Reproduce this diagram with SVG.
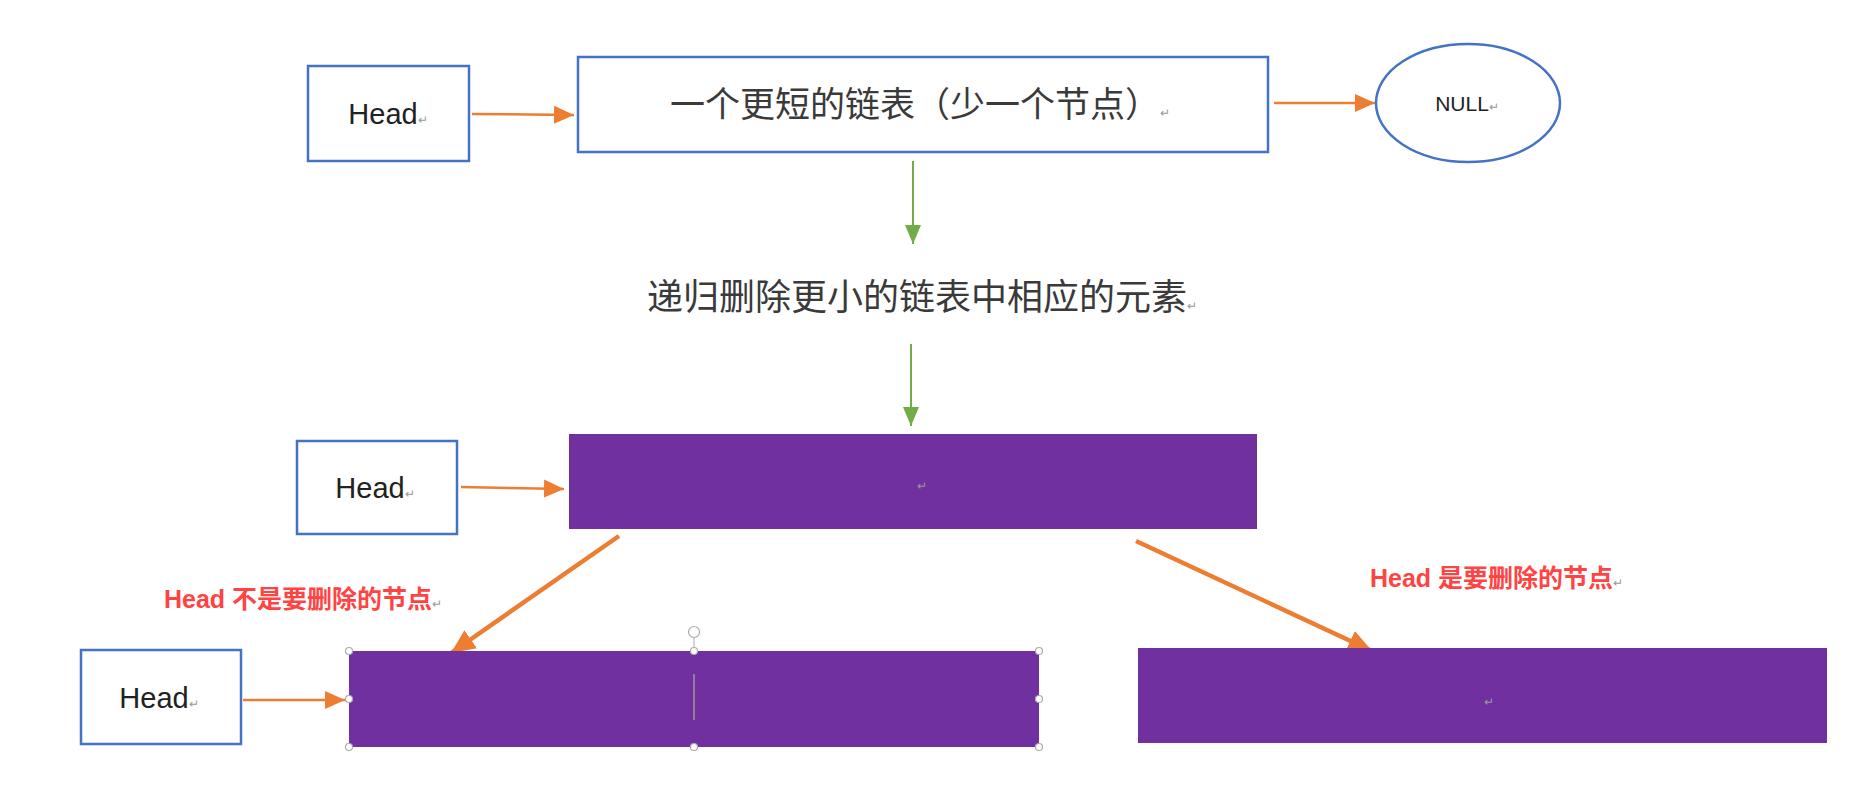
<svg xmlns="http://www.w3.org/2000/svg" width="1860" height="786" viewBox="0 0 1860 786">
<style>
.hbox{fill:#fff;stroke:#4472C4;stroke-width:2.5}
.pbox{fill:#7030A0}
.ht{font-family:"Liberation Sans","Noto Sans",sans-serif;font-size:29px;fill:#222;text-anchor:middle}
.cn{font-family:"Noto Sans CJK SC","Liberation Sans",sans-serif;fill:#3a3a3a}
.red{font-family:"Liberation Sans","Noto Sans CJK SC",sans-serif;font-size:25px;font-weight:bold;fill:#FF4343}
.mk{font-size:12px;fill:#999;font-weight:normal}
.oth{stroke:#ED7D31;stroke-width:2.5;fill:none}
.otk{stroke:#ED7D31;stroke-width:4.5;fill:none}
.gr{stroke:#70AD47;stroke-width:2;fill:none}
.hd{fill:#fff;stroke:#aaa;stroke-width:1.2}
</style>
<defs>
<marker id="ao" markerUnits="userSpaceOnUse" markerWidth="22" markerHeight="20" refX="20" refY="10" orient="auto"><path d="M0,1 L20,10 L0,19 Z" fill="#ED7D31"/></marker>
<marker id="aok" markerUnits="userSpaceOnUse" markerWidth="26" markerHeight="24" refX="24" refY="12" orient="auto"><path d="M0,1 L24,12 L0,23 Z" fill="#ED7D31"/></marker>
<marker id="ag" markerUnits="userSpaceOnUse" markerWidth="20" markerHeight="18" refX="19" refY="9" orient="auto"><path d="M0,1 L19,9 L0,17 Z" fill="#70AD47"/></marker>
</defs>

<g id="connectors">
<line class="oth" x1="472" y1="114" x2="574" y2="115" marker-end="url(#ao)"/>
<line class="oth" x1="1274" y1="103" x2="1375" y2="103" marker-end="url(#ao)"/>
<line class="gr" x1="913" y1="161" x2="913" y2="244" marker-end="url(#ag)"/>
<line class="gr" x1="911" y1="344" x2="911" y2="426" marker-end="url(#ag)"/>
<line class="oth" x1="461" y1="487" x2="564" y2="489" marker-end="url(#ao)"/>
<line class="otk" x1="619" y1="536" x2="451" y2="653" marker-end="url(#aok)"/>
<line class="otk" x1="1136" y1="541" x2="1372" y2="651" marker-end="url(#aok)"/>
<line class="oth" x1="243" y1="700" x2="345" y2="700" marker-end="url(#ao)"/>
</g>

<g id="head1">
<rect class="hbox" x="308" y="66" width="161" height="95"/>
<text class="ht" x="388" y="124">Head<tspan class="mk">↵</tspan></text>
</g>

<g id="shortlist">
<rect class="hbox" x="578" y="57" width="690" height="95"/>
<text class="cn" x="920" y="117" font-size="35" text-anchor="middle">一个更短的链表（少一个节点）<tspan class="mk">↵</tspan></text>
</g>

<g id="null">
<ellipse cx="1468" cy="103" rx="92" ry="59" fill="#fff" stroke="#4472C4" stroke-width="2.5"/>
<text x="1467" y="111" font-family="Liberation Sans Narrow,Liberation Sans,sans-serif" font-size="21" fill="#222" text-anchor="middle">NULL<tspan class="mk">↵</tspan></text>
</g>

<g id="recurse">
<text class="cn" x="922" y="310" font-size="36" text-anchor="middle">递归删除更小的链表中相应的元素<tspan class="mk">↵</tspan></text>
</g>

<g id="head2">
<rect class="hbox" x="297" y="441" width="160" height="93"/>
<text class="ht" x="375" y="498">Head<tspan class="mk">↵</tspan></text>
</g>

<g id="list2">
<rect class="pbox" x="569" y="434" width="688" height="95"/>
<text x="917" y="490" font-family="Liberation Sans,sans-serif" font-size="12" fill="#999">↵</text>
</g>

<g id="label-left">
<text class="red" x="164" y="608">Head 不是要删除的节点<tspan class="mk">↵</tspan></text>
</g>

<g id="label-right">
<text class="red" x="1370" y="587">Head 是要删除的节点<tspan class="mk">↵</tspan></text>
</g>

<g id="head3">
<rect class="hbox" x="81" y="650" width="160" height="94"/>
<text class="ht" x="159" y="708">Head<tspan class="mk">↵</tspan></text>
</g>

<g id="list3">
<rect class="pbox" x="349" y="651" width="690" height="96"/>
<line x1="694" y1="674" x2="694" y2="720" stroke="#999" stroke-width="1.5"/>
<line x1="694" y1="637" x2="694" y2="651" stroke="#aaa" stroke-width="1"/>
<circle class="hd" cx="694" cy="632" r="5.5"/>
<circle class="hd" cx="349" cy="651" r="3.5"/>
<circle class="hd" cx="694" cy="651" r="3.5"/>
<circle class="hd" cx="1039" cy="651" r="3.5"/>
<circle class="hd" cx="349" cy="699" r="3.5"/>
<circle class="hd" cx="1039" cy="699" r="3.5"/>
<circle class="hd" cx="349" cy="747" r="3.5"/>
<circle class="hd" cx="694" cy="747" r="3.5"/>
<circle class="hd" cx="1039" cy="747" r="3.5"/>
</g>

<g id="list4">
<rect class="pbox" x="1138" y="648" width="689" height="95"/>
<text x="1484" y="706" font-family="Liberation Sans,sans-serif" font-size="12" fill="#999">↵</text>
</g>
</svg>
